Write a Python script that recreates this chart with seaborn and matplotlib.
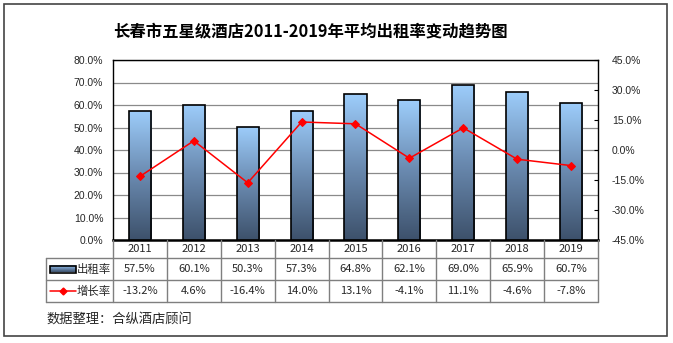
import numpy as np
import matplotlib
matplotlib.use("Agg")
import matplotlib.pyplot as plt
import seaborn as sns
from matplotlib.colors import LinearSegmentedColormap
from matplotlib.patches import Rectangle

years = ["2011", "2012", "2013", "2014", "2015", "2016", "2017", "2018", "2019"]
occupancy = [57.5, 60.1, 50.3, 57.3, 64.8, 62.1, 69.0, 65.9, 60.7]
growth = [-13.2, 4.6, -16.4, 14.0, 13.1, -4.1, 11.1, -4.6, -7.8]
title = "长春市五星级酒店2011-2019年平均出租率变动趋势图"
series_names = ["出租率", "增长率"]
source = "数据整理：合纵酒店顾问"
left_ticks = [0, 10, 20, 30, 40, 50, 60, 70, 80]
right_ticks = [-45, -30, -15, 0, 15, 30, 45]

sns.set_theme(style="white")
plt.rcParams['font.family'] = ['Noto Sans CJK SC', 'DejaVu Sans']

W, H = 673, 343
fig = plt.figure(figsize=(W / 100, H / 100), dpi=100)

# pixel layout
L, R, T, B = 113, 598, 60, 240
ax = fig.add_axes([L / W, 1 - B / H, (R - L) / W, (B - T) / H])

sns.barplot(x=years, y=occupancy, ax=ax, width=0.41, color="#6f8fb5",
            edgecolor="black", linewidth=1.2, zorder=3)
ax.set_ylim(0, 80)
ax.set_xlim(-0.5, len(years) - 0.5)

cmap = LinearSegmentedColormap.from_list("g", ["#3d516b", "#6a8ab0", "#9dcdfb"])
grad = np.linspace(0, 1, 256).reshape(-1, 1)
for p in list(ax.patches):
    x0, y0, w, h = p.get_x(), p.get_y(), p.get_width(), p.get_height()
    im = ax.imshow(grad, extent=[x0, x0 + w, y0, y0 + h], origin="lower",
                   aspect="auto", cmap=cmap, zorder=3)
    im.set_clip_path(p)
    p.set_facecolor("none")
    p.set_zorder(4)
ax.set_ylim(0, 80)
ax.set_xlim(-0.5, len(years) - 0.5)

ax.set_yticks(left_ticks)
ax.set_yticklabels([f"{v:.1f}%" for v in left_ticks], fontsize=7.5,
                   family=['Liberation Sans', 'DejaVu Sans'])
ax.tick_params(axis="y", length=0, pad=7)
ax.set_xticks([])
ax.set_xlabel("")
ax.set_ylabel("")
ax.yaxis.grid(True, color="#8a8a8a", linewidth=0.9, zorder=0)
ax.set_axisbelow(True)
for s in ax.spines.values():
    s.set_color("black")
    s.set_linewidth(1.0)
ax.spines["bottom"].set_linewidth(1.8)

ax2 = ax.twinx()
sns.lineplot(x=np.arange(len(years)), y=growth, ax=ax2, color="#ff0000",
             linewidth=1.1, marker="D", markersize=4.5, markeredgecolor="#ff0000",
             zorder=5)
ax2.set_ylim(-45, 45)
ax2.set_yticks(right_ticks)
ax2.set_yticklabels([f"{v:.1f}%" for v in right_ticks], fontsize=7.5,
                    family=['Liberation Sans', 'DejaVu Sans'])
ax2.tick_params(axis="y", direction="in", length=3, width=0.8, color="black", pad=10)
ax2.set_ylabel("")
ax2.grid(False)
for s in ax2.spines.values():
    s.set_visible(False)

# overlay in pixel coordinates
ov = fig.add_axes([0, 0, 1, 1], zorder=10)
ov.set_xlim(0, W)
ov.set_ylim(H, 0)
ov.axis("off")
ov.patch.set_alpha(0)

# outer border
ov.add_patch(Rectangle((4, 4), 663, 332, fill=False, edgecolor="#444444", linewidth=1.2))

ov.text(310, 31, title, ha="center", va="center", fontsize=11.8, fontweight="bold",
        color="black")

# table
n = len(years)
cw = (R - L) / n
rows = [240, 258, 280, 302]
LEG = 46
lc = "#7f7f7f"
for yy in rows[1:]:
    ov.plot([LEG, R], [yy, yy], color=lc, linewidth=1.0)
ov.plot([LEG, LEG], [rows[1], rows[3]], color=lc, linewidth=1.0)
for i in range(n + 1):
    xx = L + i * cw
    ov.plot([xx, xx], [rows[0], rows[3]], color=lc, linewidth=1.0)

for i, yr in enumerate(years):
    cx = L + (i + 0.5) * cw
    ov.text(cx, (rows[0] + rows[1]) / 2 + 0.5, yr, ha="center", va="center", fontsize=8)
    ov.text(cx, (rows[1] + rows[2]) / 2, f"{occupancy[i]:.1f}%", ha="center",
            va="center", fontsize=8)
    ov.text(cx, (rows[2] + rows[3]) / 2, f"{growth[i]:.1f}%", ha="center",
            va="center", fontsize=8)

# legend icons
ym1 = (rows[1] + rows[2]) / 2
ym2 = (rows[2] + rows[3]) / 2
ov.imshow(grad[::-1], extent=[50, 76, ym1 + 3.5, ym1 - 3.5], cmap=cmap,
          aspect="auto", zorder=11)
ov.add_patch(Rectangle((50, ym1 - 3.5), 26, 7, fill=False, edgecolor="black",
                       linewidth=1.2, zorder=12))
ov.plot([50, 76], [ym2, ym2], color="#ff0000", linewidth=1.1)
ov.plot([63], [ym2], marker="D", markersize=3.5, color="#ff0000")
ov.text(77, ym1, series_names[0], ha="left", va="center", fontsize=8.2)
ov.text(77, ym2, series_names[1], ha="left", va="center", fontsize=8.2)
ov.set_xlim(0, W)
ov.set_ylim(H, 0)

ov.text(46, 319, source, ha="left", va="center", fontsize=9.5)

fig.savefig("out.png", dpi=100)
